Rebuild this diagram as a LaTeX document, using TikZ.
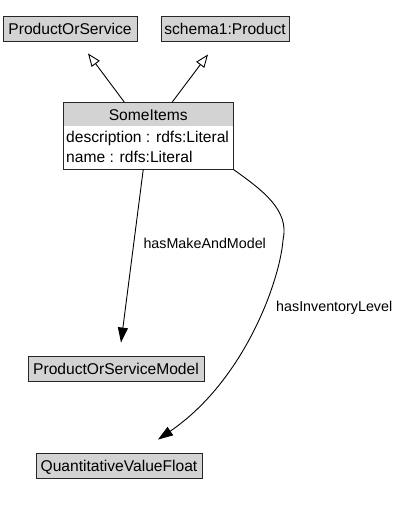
\documentclass[tikz,border=0pt]{standalone}
\usepackage{fontspec}
\setmainfont{Liberation Sans}
\usetikzlibrary{arrows.meta,calc}
\definecolor{hdrgray}{RGB}{211,211,211}
\tikzset{
  cls/.style={draw=black!85, fill=hdrgray, line width=0.9pt, inner sep=0pt,
    font=\fontsize{15.6}{18}\selectfont, text height=11.2pt, text depth=0pt},
  txt/.style={inner sep=0pt, font=\fontsize{15.6}{18}\selectfont},
  lbl/.style={inner sep=0pt, font=\fontsize{14.3}{17}\selectfont},
  isa/.style={line width=0.9pt, -{Triangle[open, length=13pt, width=10pt]}},
  rel/.style={line width=0.9pt, -{Triangle[length=15pt, width=10pt]}}
}
\begin{document}
\begin{tikzpicture}[x=1pt, y=-1pt]
\useasboundingbox (0,0) rectangle (404,516);
% class boxes
\node[cls, minimum width=134pt, minimum height=25pt] (pos) at (70,28.5) {ProductOrService};
\node[cls, minimum width=128pt, minimum height=25pt] (sp) at (225,28.5) {schema1:Product};
\node[draw=black!85, line width=0.9pt, inner sep=0pt, minimum width=169.5pt, minimum height=66.5pt,
  path picture={\fill[hdrgray] (path picture bounding box.north west) rectangle ([yshift=-23pt]path picture bounding box.north east);}]
  (some) at (148.25,135.75) {};
\node[txt, anchor=base] (someT) at (148.25,120.3) {SomeItems};
\node[txt, anchor=base west] (someA) at (66,142.3) {description : rdfs:Literal};
\node[txt, anchor=base west] (someB) at (66,162) {name : rdfs:Literal};
\node[cls, minimum width=176pt, minimum height=25pt] (posm) at (116,368.5) {ProductOrServiceModel};
\node[cls, minimum width=166pt, minimum height=25pt] (qvf) at (119,465.5) {QuantitativeValueFloat};
% inheritance
\draw[isa] ([xshift=-24pt]some.north) -- ([xshift=18pt,yshift=-12pt]pos.south);
\draw[isa] ([xshift=24pt]some.north) -- ([xshift=-17pt,yshift=-13pt]sp.south);
% relations
\draw[rel] ([xshift=-5pt]some.south) -- ([xshift=5pt,yshift=13pt]posm.north);
\draw[rel] (some.south east) .. controls (262,190) and (290,210) .. (283,240)
  .. controls (280,280) and (245,380) .. ([xshift=39pt,yshift=13pt]qvf.north);
\node[lbl, anchor=base west] (l1) at (143.3,248.5) {hasMakeAndModel};
\node[lbl, anchor=base west] (l2) at (276,311) {hasInventoryLevel};
\end{tikzpicture}
\end{document}
